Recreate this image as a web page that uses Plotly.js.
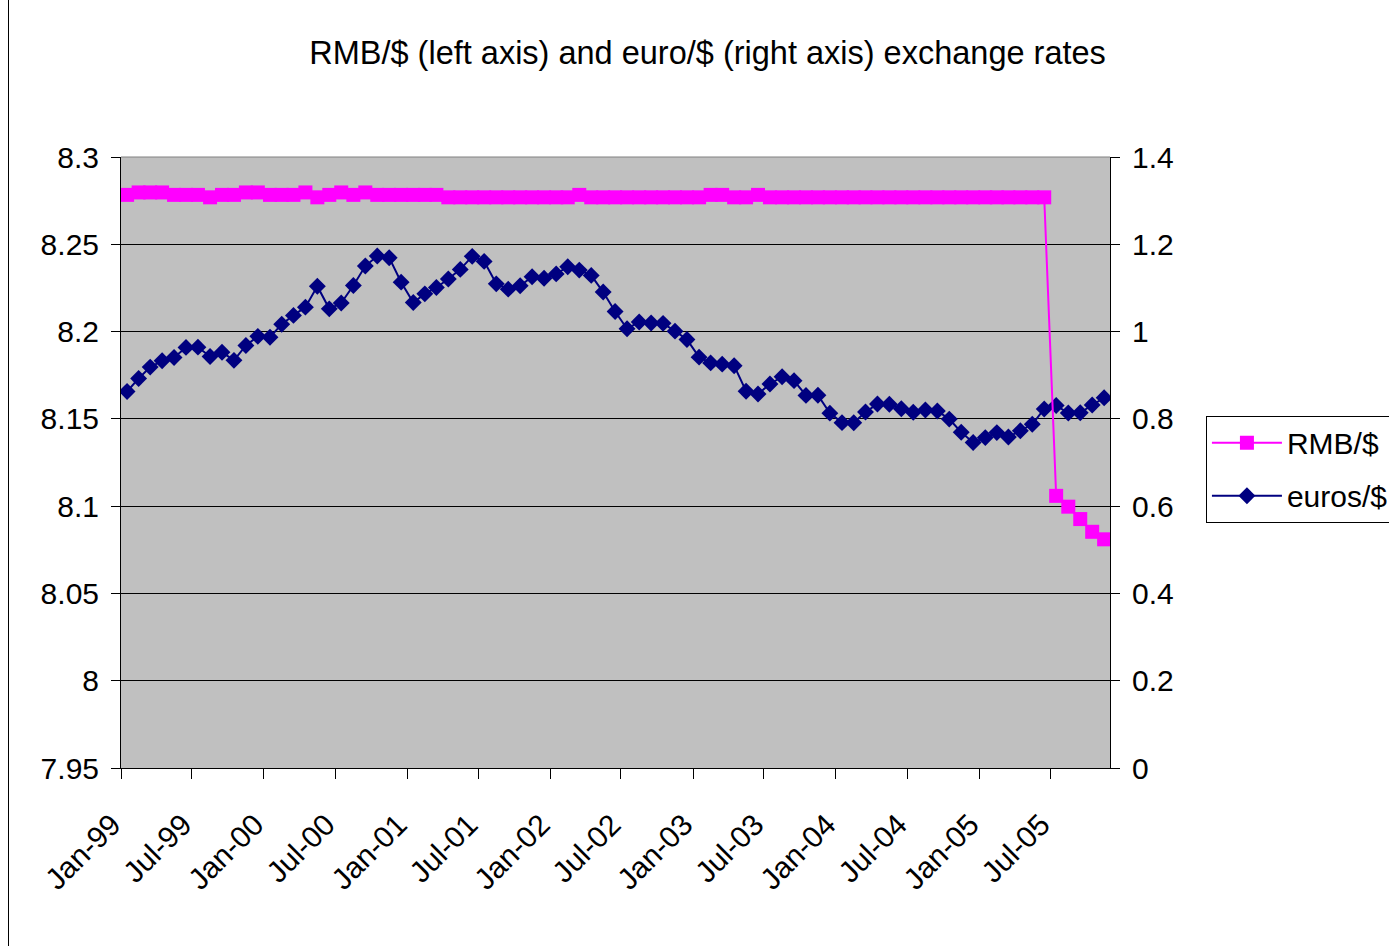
<!DOCTYPE html>
<html><head><meta charset="utf-8">
<script src="https://cdn.plot.ly/plotly-3.0.1.min.js"></script>
<style>html,body{margin:0;padding:0;background:#fff}#chart{width:1389px;height:946px}</style>
</head><body><div id="chart"></div>
<script>
const months = [
 "1999-01","1999-02","1999-03","1999-04","1999-05","1999-06","1999-07","1999-08","1999-09","1999-10","1999-11","1999-12",
 "2000-01","2000-02","2000-03","2000-04","2000-05","2000-06","2000-07","2000-08","2000-09","2000-10","2000-11","2000-12",
 "2001-01","2001-02","2001-03","2001-04","2001-05","2001-06","2001-07","2001-08","2001-09","2001-10","2001-11","2001-12",
 "2002-01","2002-02","2002-03","2002-04","2002-05","2002-06","2002-07","2002-08","2002-09","2002-10","2002-11","2002-12",
 "2003-01","2003-02","2003-03","2003-04","2003-05","2003-06","2003-07","2003-08","2003-09","2003-10","2003-11","2003-12",
 "2004-01","2004-02","2004-03","2004-04","2004-05","2004-06","2004-07","2004-08","2004-09","2004-10","2004-11","2004-12",
 "2005-01","2005-02","2005-03","2005-04","2005-05","2005-06","2005-07","2005-08","2005-09","2005-10","2005-11"
];
const rmbPerDollar = [
 8.2783,8.2797,8.2797,8.2797,8.2783,8.2783,8.2783,8.2769,8.2783,8.2783,8.2797,8.2797,
 8.2783,8.2783,8.2783,8.2797,8.2769,8.2783,8.2797,8.2783,8.2797,8.2783,8.2783,8.2783,
 8.2783,8.2783,8.2783,8.2769,8.2769,8.2769,8.2769,8.2769,8.2769,8.2769,8.2769,8.2769,
 8.2769,8.2769,8.2783,8.2769,8.2769,8.2769,8.2769,8.2769,8.2769,8.2769,8.2769,8.2769,
 8.2769,8.2783,8.2783,8.2769,8.2769,8.2783,8.2769,8.2769,8.2769,8.2769,8.2769,8.2769,
 8.2769,8.2769,8.2769,8.2769,8.2769,8.2769,8.2769,8.2769,8.2769,8.2769,8.2769,8.2769,
 8.2769,8.2769,8.2769,8.2769,8.2769,8.2769,8.1059,8.0997,8.0926,8.0853,8.0810
];
const eurosPerDollar = [
 0.8627,0.8926,0.9186,0.9330,0.9407,0.9637,0.9643,0.9430,0.9527,0.9341,0.9682,0.9891,
 0.9871,1.0169,1.0370,1.0560,1.1039,1.0521,1.0654,1.1056,1.1501,1.1730,1.1693,1.1132,
 1.0666,1.0864,1.1010,1.1204,1.1425,1.1723,1.1608,1.1094,1.0972,1.1050,1.1257,1.1221,
 1.1322,1.1485,1.1408,1.1287,1.0905,1.0459,1.0065,1.0221,1.0197,1.0188,1.0010,0.9820,
 0.9414,0.9282,0.9253,0.9218,0.8634,0.8569,0.8799,0.8965,0.8875,0.8537,0.8540,0.8131,
 0.7913,0.7911,0.8156,0.8341,0.8333,0.8233,0.8153,0.8203,0.8181,0.7995,0.7694,0.7459,
 0.7570,0.7685,0.7584,0.7726,0.7876,0.8227,0.8305,0.8133,0.8140,0.8318,0.8482
];
const xTickVals = ["1999-01-01","1999-07-01","2000-01-01","2000-07-01","2001-01-01","2001-07-01","2002-01-01","2002-07-01",
 "2003-01-01","2003-07-01","2004-01-01","2004-07-01","2005-01-01","2005-07-01"];
const xTickText = ["Jan-99","Jul-99","Jan-00","Jul-00","Jan-01","Jul-01","Jan-02","Jul-02",
 "Jan-03","Jul-03","Jan-04","Jul-04","Jan-05","Jul-05"];
const leftTickVals = [7.95,8,8.05,8.1,8.15,8.2,8.25,8.3];
const leftTickText = ["7.95","8","8.05","8.1","8.15","8.2","8.25","8.3"];
const rightTickVals = [0,0.2,0.4,0.6,0.8,1,1.2,1.4];
const rightTickText = ["0","0.2","0.4","0.6","0.8","1","1.2","1.4"];

const FONT = "Liberation Sans, Arial, sans-serif";
const traces = [
 {x: months, y: rmbPerDollar, name: "RMB/$", type: "scatter", mode: "lines+markers", legendgroup: "a",
  xperiod: "M1", xperiodalignment: "middle", yaxis: "y2",
  line: {color: "#FF00FF", width: 2}, marker: {symbol: "square", size: 14, color: "#FF00FF"}},
 {x: months, y: eurosPerDollar, name: "euros/$", type: "scatter", mode: "lines+markers", legendgroup: "b",
  xperiod: "M1", xperiodalignment: "middle", yaxis: "y",
  line: {color: "#000080", width: 2}, marker: {symbol: "diamond", size: 13, color: "#000080"}}
];
const layout = {
 width: 1389, height: 946, autosize: false,
 margin: {l: 121, r: 279, t: 157, b: 178, pad: 0, autoexpand: false},
 paper_bgcolor: "#ffffff", plot_bgcolor: "#C0C0C0",
 font: {family: FONT, color: "#000", size: 30},
 title: {text: "RMB/$ (left axis) and euro/$ (right axis) exchange rates", font: {family: FONT, size: 32.5, color: "#000"},
   x: 0.5094, xanchor: "center", xref: "container", y: 0.944, yanchor: "middle", yref: "container"},
 showlegend: true,
 legend: {x: 1.097, xanchor: "left", y: 0.489, yanchor: "middle", bgcolor: "#fff", bordercolor: "#000", borderwidth: 1,
   traceorder: "grouped", tracegroupgap: 11, itemwidth: 70,
   font: {family: FONT, size: 30, color: "#000"}},
 xaxis: {type: "date", range: ["1999-01-01", "2005-12-01"], tickmode: "array", tickvals: xTickVals, ticktext: xTickText,
   tickangle: -45, ticks: "outside", ticklen: 10, tickcolor: "#000", showline: true, linecolor: "#000", linewidth: 1,
   ticklabelstandoff: 16, ticklabelshift: -9, automargin: false,
   showgrid: false, zeroline: false, tickfont: {family: FONT, size: 30, color: "#000"}},
 yaxis: {side: "right", range: [0, 1.4], tickmode: "array", tickvals: rightTickVals, ticktext: rightTickText,
   ticks: "outside", ticklen: 9, tickcolor: "#000", showline: true, linecolor: "#000", linewidth: 1, automargin: false,
   showgrid: true, gridcolor: "#000", gridwidth: 1, zeroline: false, ticklabelstandoff: 6,
   tickfont: {family: FONT, size: 30, color: "#000"}},
 yaxis2: {side: "left", overlaying: "y", range: [7.95, 8.3], tickmode: "array", tickvals: leftTickVals, ticktext: leftTickText,
   ticks: "outside", ticklen: 9, tickcolor: "#000", showline: true, linecolor: "#000", linewidth: 1, automargin: false,
   showgrid: false, zeroline: false, ticklabelstandoff: 6, tickfont: {family: FONT, size: 30, color: "#000"}},
 shapes: [
  {type: "line", xref: "paper", yref: "paper", x0: 0, x1: 1, y0: 1, y1: 1, line: {color: "#808080", width: 1}},
  {type: "line", xref: "paper", yref: "paper", x0: -0.11375, x1: -0.11375, y0: -0.3, y1: 1.3, line: {color: "#000", width: 1}}
 ]
};
Plotly.newPlot("chart", traces, layout, {displayModeBar: false, staticPlot: true});
</script></body></html>
